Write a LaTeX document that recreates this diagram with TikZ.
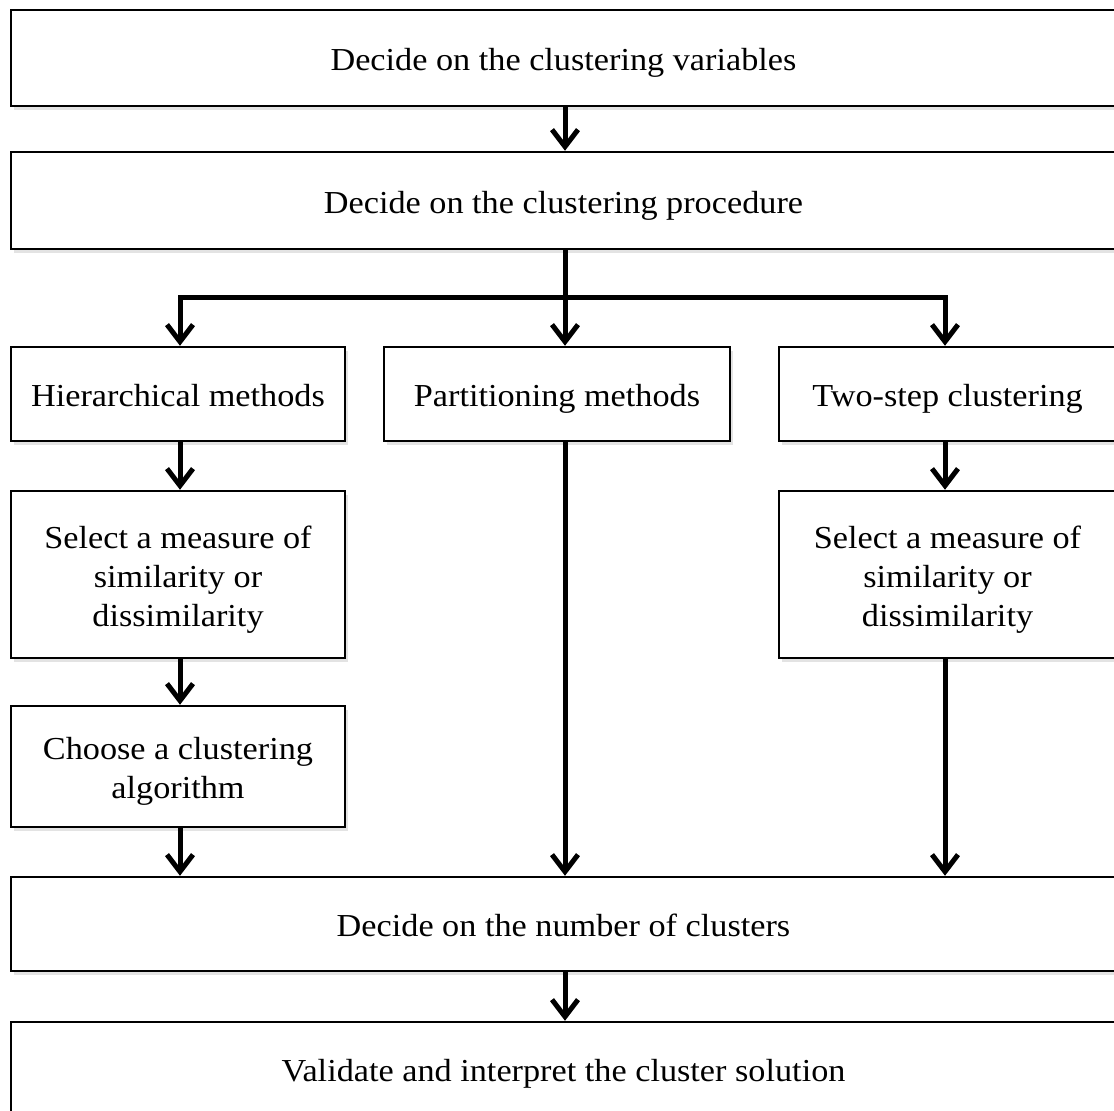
\documentclass[tikz,border=0pt]{standalone}
\usepackage{fontspec}
\setmainfont{Liberation Serif}[FakeStretch=1.07]
\usetikzlibrary{arrows.meta,shadows}
\newcommand\ls{\rule[-7pt]{0pt}{39pt}}
\begin{document}
\begin{tikzpicture}[x=1pt,y=-1pt,
  box/.style={draw, line width=2.5pt, fill=white, rectangle, inner sep=0pt, align=center,
    font=\fontsize{32}{39}\selectfont,
    drop shadow={shadow xshift=3pt, shadow yshift=-4pt, opacity=0.22}},
  arr/.style={line width=5pt, -{Straight Barb[length=17pt,width=26pt,line width=5pt]}},
  conn/.style={line width=5pt}]
\useasboundingbox (0,0) rectangle (1114,1111);
\clip (0,0) rectangle (1114,1111);
\coordinate (mx) at (565,0);
\coordinate (hx) at (180,0);
\coordinate (tx) at (945,0);
\coordinate (jy) at (0,297);

\node[box, minimum width=1105pt, minimum height=96pt] (b1) at (563.5,58) {\ls Decide on the clustering variables};
\node[box, minimum width=1105pt, minimum height=97pt] (b2) at (563.5,200.5) {\ls Decide on the clustering procedure};
\node[box, minimum width=334pt, minimum height=94pt] (h) at (178,394) {\ls Hierarchical methods};
\node[box, minimum width=346pt, minimum height=94pt] (p) at (557,394) {\ls Partitioning methods};
\node[box, minimum width=337pt, minimum height=94pt] (t) at (947.5,394) {\ls Two-step clustering};
\node[box, minimum width=334pt, minimum height=167pt] (s1) at (178,574.5) {\ls Select a measure of\\\ls similarity or\\\ls dissimilarity};
\node[box, minimum width=337pt, minimum height=167pt] (s2) at (947.5,574.5) {\ls Select a measure of\\\ls similarity or\\\ls dissimilarity};
\node[box, minimum width=334pt, minimum height=121pt] (c) at (178,766.5) {\ls Choose a clustering\\\ls algorithm};
\node[box, minimum width=1105pt, minimum height=94pt] (n) at (563.5,924) {\ls Decide on the number of clusters};
\node[box, minimum width=1105pt, minimum height=93pt] (v) at (563.5,1068.5) {\ls Validate and interpret the cluster solution};

\draw[arr] (b1.south -| mx) -- (b2.north -| mx);
\draw[arr] (b2.south -| mx) -- (p.north -| mx);
\draw[arr] (mx |- jy) -- (hx |- jy) -- (h.north -| hx);
\draw[arr] (mx |- jy) -- (tx |- jy) -- (t.north -| tx);
\draw[arr] (h.south -| hx) -- (s1.north -| hx);
\draw[arr] (s1.south -| hx) -- (c.north -| hx);
\draw[arr] (c.south -| hx) -- (n.north -| hx);
\draw[arr] (p.south -| mx) -- (n.north -| mx);
\draw[arr] (t.south -| tx) -- (s2.north -| tx);
\draw[arr] (s2.south -| tx) -- (n.north -| tx);
\draw[arr] (n.south -| mx) -- (v.north -| mx);
\end{tikzpicture}
\end{document}
